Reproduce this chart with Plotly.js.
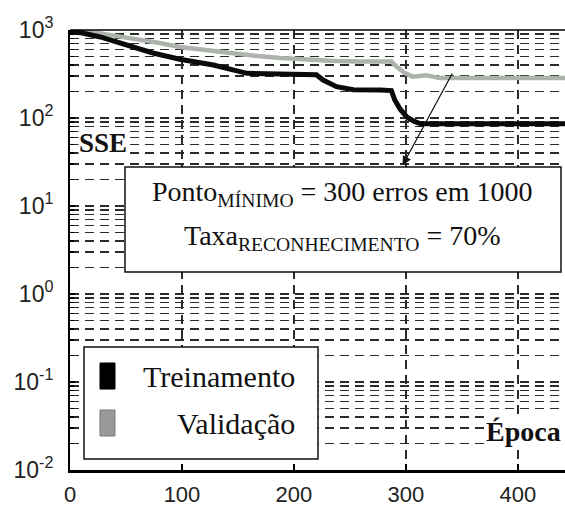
<!DOCTYPE html>
<html><head><meta charset="utf-8">
<script src="https://cdn.plot.ly/plotly-3.0.1.min.js"></script>
<style>html,body{margin:0;padding:0;background:#fff;overflow:hidden}#chart{width:565px;height:506px}</style>
</head><body><div id="chart"></div>
<script>
// ---- data ----
const seriesNames = ['Treinamento', 'Validação'];
const trainEpochs = [0, 10, 27, 51, 74, 98, 128, 158, 175, 190, 205, 220, 226, 238, 253, 265, 277, 287, 290, 295, 301, 307, 313, 442];
const trainSSE    = [950, 930, 833, 675, 548, 465, 400, 322, 318, 315, 313, 310, 270, 227, 210, 212, 208, 205, 160, 125, 102, 92, 86, 86];
const valEpochs   = [0, 20, 35, 51, 65, 80, 98, 120, 143, 165, 188, 210, 232, 255, 277, 283, 287, 292, 299, 306, 312, 318, 324, 330, 442];
const valSSE      = [960, 950, 880, 820, 760, 711, 640, 590, 548, 510, 480, 460, 448, 440, 436, 445, 440, 380, 324, 295, 300, 305, 295, 285, 285];
const xTickVals = [0, 100, 200, 300, 400];
const xTickText = ['0', '100', '200', '300', '400'];
const yDecadeExp = [-2, -1, 0, 1, 2, 3];
const yDecadeText = ['10<sup>-2</sup>', '10<sup>-1</sup>', '10<sup>0</sup>', '10<sup>1</sup>', '10<sup>2</sup>', '10<sup>3</sup>'];
const arrowHead = [297, 29];   // [época, SSE]
const arrowTail = [342, 333];  // [época, SSE]
const boxLines = ['Ponto<sub>MÍNIMO</sub> = 300 erros em 1000', 'Taxa<sub>RECONHECIMENTO</sub> = 70%'];
const labelY = 'SSE';
const labelX = 'Época';

// ---- tick positions: decades (labelled) and 2..9 minors (dashed grid) ----
const yTickVals = yDecadeExp.map(e => Math.pow(10, e));
const yMinorVals = [];
yDecadeExp.slice(0, -1).forEach(e => {
  for (let m = 2; m <= 9; m++) yMinorVals.push(m * Math.pow(10, e));
});

const traces = [
  {x: valEpochs, y: valSSE, name: seriesNames[1], type: 'scatter', mode: 'lines',
   line: {color: '#abb3ab', width: 4.5}},
  {x: trainEpochs, y: trainSSE, name: seriesNames[0], type: 'scatter', mode: 'lines',
   line: {color: '#0a0a0a', width: 5}}
];

const gridStyle = {showgrid: true, gridcolor: '#2a2a2a', gridwidth: 1.5, griddash: '9px,6px'};
const tickFont = {family: 'Liberation Sans, Arial, sans-serif', size: 22, color: '#222'};
const serif = 'Liberation Serif, Times New Roman, serif';

const layout = {
  width: 565, height: 506,
  margin: {l: 70, r: 0, t: 30, b: 36, pad: 0},
  paper_bgcolor: '#fff', plot_bgcolor: '#fff',
  showlegend: false,
  xaxis: Object.assign({
    range: [0, 442], tickmode: 'array', tickvals: xTickVals, ticktext: xTickText,
    ticks: 'inside', ticklen: 6, tickwidth: 1.5, tickcolor: '#000',
    showline: true, linecolor: '#000', linewidth: 3, zeroline: false,
    tickfont: tickFont, ticklabelstandoff: 3, fixedrange: true
  }, gridStyle),
  yaxis: Object.assign({
    type: 'log', range: [-2, 3], tickmode: 'array', tickvals: yTickVals, ticktext: yDecadeText,
    ticks: 'inside', ticklen: 5, tickwidth: 1.5, tickcolor: '#000',
    showline: true, linecolor: '#000', linewidth: 2, zeroline: false,
    tickfont: Object.assign({}, tickFont, {size: 23}), ticklabelstandoff: 10, fixedrange: true,
    minor: {tickmode: 'array', tickvals: yMinorVals, ticks: 'inside', ticklen: 4, tickwidth: 1.2, tickcolor: '#000',
            showgrid: true, gridcolor: '#2a2a2a', gridwidth: 1.5, griddash: '9px,6px'}
  }, gridStyle),
  shapes: [
    {type: 'line', xref: 'paper', yref: 'paper', x0: 0, x1: 1, y0: 1, y1: 1, line: {color: '#000', width: 1.5}},
    {type: 'rect', xref: 'paper', yref: 'paper', x0: 0.1111, x1: 0.9919, y0: 0.45, y1: 0.6886,
     fillcolor: '#fff', line: {color: '#111', width: 1.5}, layer: 'above'},
    {type: 'rect', xref: 'paper', yref: 'paper', x0: 0.0283, x1: 0.501, y0: 0.025, y1: 0.2795,
     fillcolor: '#fff', line: {color: '#111', width: 1.5}, layer: 'above'},
    {type: 'rect', xref: 'paper', yref: 'paper', x0: 0.0606, x1: 0.0909, y0: 0.184, y1: 0.2432,
     fillcolor: '#000', line: {color: '#000', width: 1}, layer: 'above'},
    {type: 'rect', xref: 'paper', yref: 'paper', x0: 0.0606, x1: 0.0909, y0: 0.0773, y1: 0.1364,
     fillcolor: '#9a9a9a', line: {color: '#777', width: 1}, layer: 'above'}
  ],
  annotations: [
    {xref: 'paper', yref: 'paper', x: 0.016, y: 0.743, xanchor: 'left', yanchor: 'middle', showarrow: false,
     text: labelY, font: {family: serif, size: 27, color: '#111', weight: 'bold'}, bgcolor: '#fff', borderpad: 0},
    {xref: 'paper', yref: 'paper', x: 0.838, y: 0.0864, xanchor: 'left', yanchor: 'middle', showarrow: false,
     text: labelX, font: {family: serif, size: 28, color: '#111', weight: 'bold'}, bgcolor: '#fff', borderpad: 0},
    {xref: 'paper', yref: 'paper', x: 0.5515, y: 0.6295, xanchor: 'center', yanchor: 'middle', showarrow: false,
     text: boxLines[0], font: {family: serif, size: 28, color: '#111'}},
    {xref: 'paper', yref: 'paper', x: 0.5515, y: 0.5295, xanchor: 'center', yanchor: 'middle', showarrow: false,
     text: boxLines[1], font: {family: serif, size: 28, color: '#111'}},
    {xref: 'paper', yref: 'paper', x: 0.4586, y: 0.2114, xanchor: 'right', yanchor: 'middle', showarrow: false,
     text: seriesNames[0], font: {family: serif, size: 30, color: '#111'}},
    {xref: 'paper', yref: 'paper', x: 0.4586, y: 0.1068, xanchor: 'right', yanchor: 'middle', showarrow: false,
     text: seriesNames[1], font: {family: serif, size: 30, color: '#111'}},
    {xref: 'x', yref: 'y', x: arrowHead[0], y: Math.log10(arrowHead[1]),
     axref: 'x', ayref: 'y', ax: arrowTail[0], ay: Math.log10(arrowTail[1]),
     text: '', showarrow: true, arrowhead: 2, arrowsize: 1.5, arrowwidth: 1.2, arrowcolor: '#111',
     standoff: 0, startstandoff: 0}
  ]
};

Plotly.newPlot('chart', traces, layout, {staticPlot: true, displayModeBar: false});
</script>
</body></html>
